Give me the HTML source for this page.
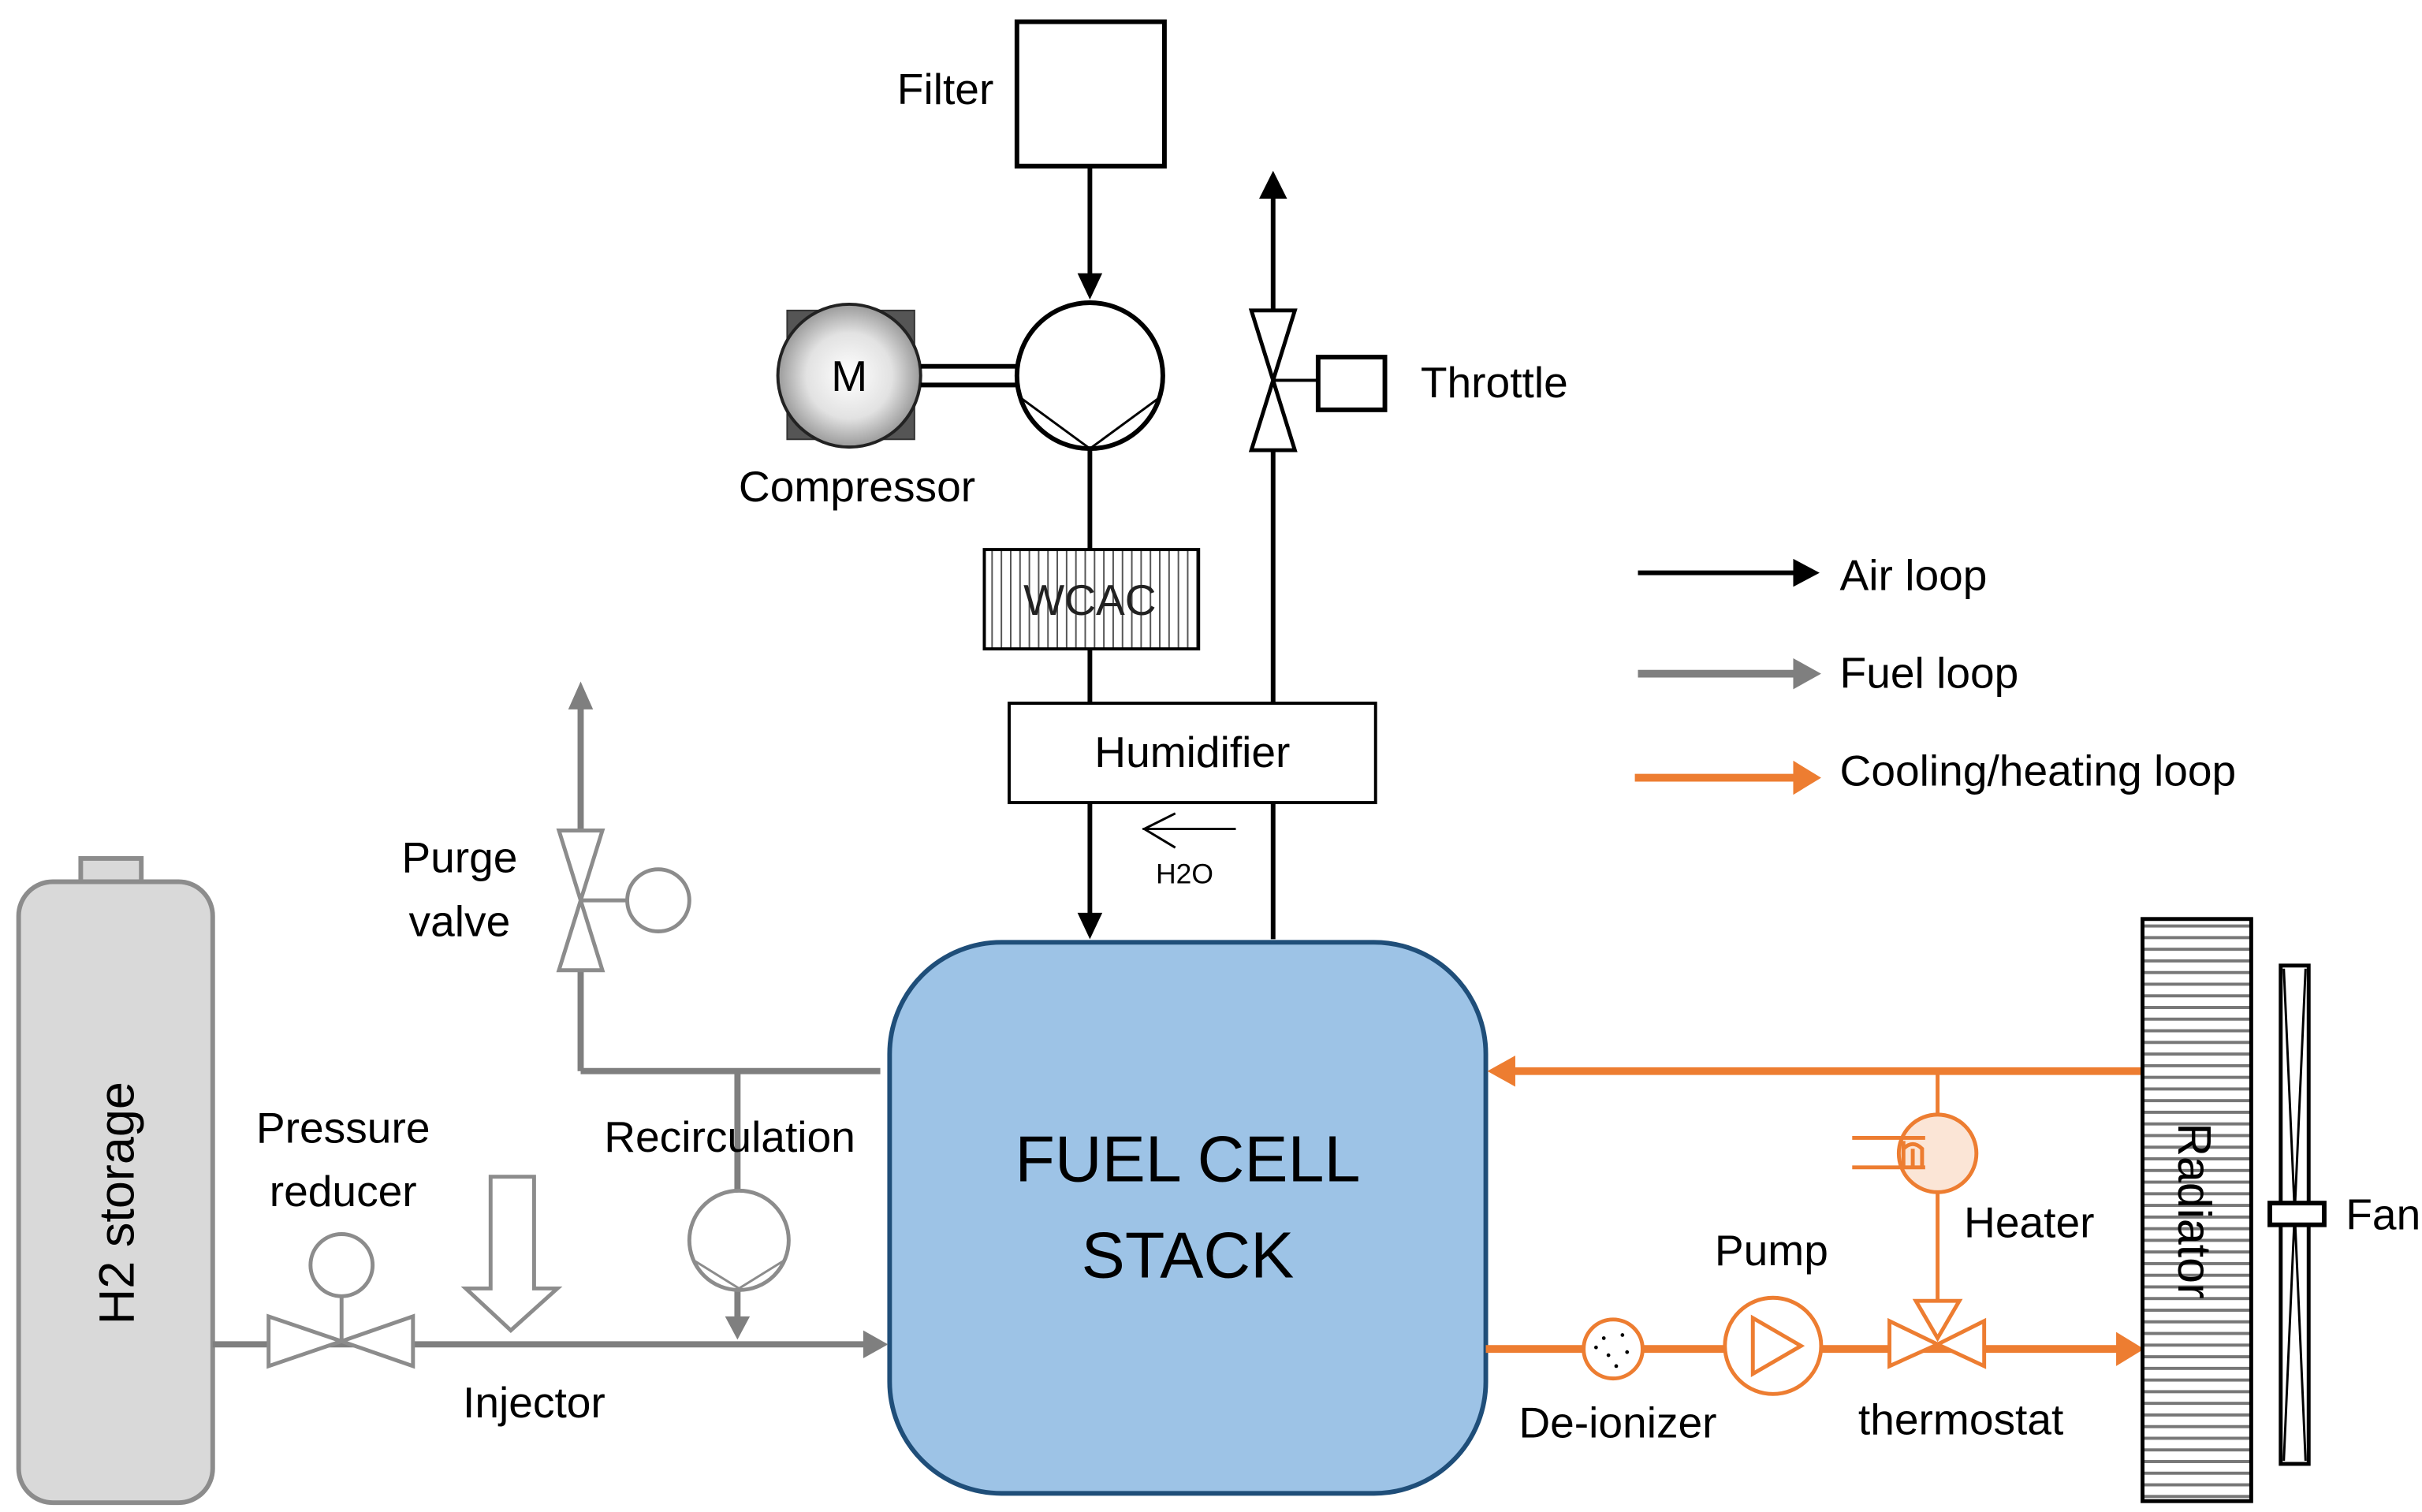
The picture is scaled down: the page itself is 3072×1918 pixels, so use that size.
<!DOCTYPE html>
<html><head><style>html,body{margin:0;padding:0;background:#fff}svg{display:block}</style></head>
<body>
<svg width="3072" height="1918" viewBox="0 0 1560 974" preserveAspectRatio="none" xmlns="http://www.w3.org/2000/svg" font-family="Liberation Sans, sans-serif">
<defs>
<radialGradient id="mg" cx="50%" cy="50%" r="50%"><stop offset="0" stop-color="#fff"/><stop offset="0.6" stop-color="#e2e2e2"/><stop offset="1" stop-color="#9a9a9a"/></radialGradient>
<pattern id="vh" width="6" height="10" patternUnits="userSpaceOnUse"><line x1="3" y1="0" x2="3" y2="10" stroke="#555" stroke-width="1"/></pattern>
<pattern id="hh" width="10" height="7.5" patternUnits="userSpaceOnUse"><line x1="0" y1="4" x2="10" y2="4" stroke="#777" stroke-width="2"/></pattern>
</defs>
<g font-size="28" fill="#000">
<rect x="655" y="14" width="95" height="93" fill="#fff" stroke="#000" stroke-width="3"/>
<text x="640" y="67" text-anchor="end">Filter</text>
<line x1="702" y1="107" x2="702" y2="178" stroke="#000" stroke-width="3"/>
<polygon points="694,176 710,176 702,193" fill="#000"/>
<rect x="507" y="200" width="82" height="83" fill="#555" stroke="#333"/>
<circle cx="547" cy="242" r="46" fill="url(#mg)" stroke="#222" stroke-width="2"/>
<text x="547" y="252" text-anchor="middle" font-size="28">M</text>
<line x1="593" y1="236" x2="655" y2="236" stroke="#000" stroke-width="3"/>
<line x1="593" y1="248" x2="655" y2="248" stroke="#000" stroke-width="3"/>
<circle cx="702" cy="242" r="47" fill="#fff" stroke="#000" stroke-width="3"/>
<polyline points="657,256 702,289 747,256" fill="none" stroke="#000" stroke-width="1.5"/>
<text x="552" y="323" text-anchor="middle">Compressor</text>
<line x1="702" y1="289" x2="702" y2="354" stroke="#000" stroke-width="3"/>
<rect x="634" y="354" width="138" height="64" fill="url(#vh)" stroke="#000" stroke-width="2"/>
<text x="702" y="396" text-anchor="middle" font-size="28" fill="#222">WCAC</text>
<line x1="702" y1="418" x2="702" y2="453" stroke="#000" stroke-width="3"/>
<line x1="820" y1="605" x2="820" y2="517" stroke="#000" stroke-width="3"/>
<line x1="820" y1="453" x2="820" y2="290" stroke="#000" stroke-width="3"/>
<rect x="650" y="453" width="236" height="64" fill="#fff" stroke="#000" stroke-width="2"/>
<text x="768" y="494" text-anchor="middle">Humidifier</text>
<line x1="702" y1="517" x2="702" y2="590" stroke="#000" stroke-width="3"/>
<polygon points="694,588 710,588 702,605" fill="#000"/>
<line x1="736" y1="534" x2="796" y2="534" stroke="#000" stroke-width="1.5"/>
<polyline points="757,524 737,534 757,546" fill="none" stroke="#000" stroke-width="1.5"/>
<text x="763" y="569" text-anchor="middle" font-size="18">H2O</text>
<polygon points="806,290 834,290 820,245" fill="#fff" stroke="#000" stroke-width="2.5"/>
<polygon points="806,200 834,200 820,245" fill="#fff" stroke="#000" stroke-width="2.5"/>
<line x1="820" y1="200" x2="820" y2="126" stroke="#000" stroke-width="3"/>
<polygon points="811,128 829,128 820,110" fill="#000"/>
<line x1="820" y1="245" x2="849" y2="245" stroke="#000" stroke-width="2"/>
<rect x="849" y="230" width="43" height="34" fill="#fff" stroke="#000" stroke-width="3"/>
<text x="915" y="256">Throttle</text>
<line x1="1055" y1="369" x2="1158" y2="369" stroke="#000" stroke-width="3"/>
<polygon points="1155,360 1172,369 1155,378" fill="#000"/>
<text x="1185" y="380">Air loop</text>
<line x1="1055" y1="434" x2="1158" y2="434" stroke="#7f7f7f" stroke-width="5"/>
<polygon points="1155,424 1173,434 1155,444" fill="#7f7f7f"/>
<text x="1185" y="443">Fuel loop</text>
<line x1="1053" y1="501" x2="1158" y2="501" stroke="#ED7D31" stroke-width="5"/>
<polygon points="1155,490 1173,501 1155,512" fill="#ED7D31"/>
<text x="1185" y="506">Cooling/heating loop</text>
<rect x="573" y="607" width="384" height="355" rx="72" fill="#9DC3E6" stroke="#1F4E79" stroke-width="3"/>
<text x="765" y="761" text-anchor="middle" font-size="42">FUEL CELL</text>
<text x="765" y="823" text-anchor="middle" font-size="42">STACK</text>
<rect x="52" y="553" width="39" height="16" fill="#d9d9d9" stroke="#8c8c8c" stroke-width="3"/>
<rect x="12" y="568" width="125" height="400" rx="22" fill="#d9d9d9" stroke="#8c8c8c" stroke-width="3"/>
<text transform="translate(86,775) rotate(-90)" text-anchor="middle" font-size="32">H2 storage</text>
<g stroke="#7f7f7f" stroke-width="4" fill="none">
<line x1="137" y1="866" x2="558" y2="866"/>
<line x1="374" y1="690" x2="567" y2="690"/>
<line x1="374" y1="690" x2="374" y2="625"/>
<line x1="374" y1="535" x2="374" y2="455"/>
<line x1="475" y1="690" x2="475" y2="768"/>
<line x1="475" y1="830" x2="475" y2="850"/>
</g>
<polygon points="556,857 572,866 556,875" fill="#7f7f7f"/>
<polygon points="467,848 483,848 475,863" fill="#7f7f7f"/>
<polygon points="366,457 382,457 374,439" fill="#7f7f7f"/>
<g stroke="#8c8c8c" stroke-width="2.5" fill="#fff">
<polygon points="173,848 173,880 220,864"/>
<polygon points="266,848 266,880 220,864"/>
<line x1="220" y1="864" x2="220" y2="834"/>
<circle cx="220" cy="815" r="20"/>
<polygon points="360,625 388,625 374,580"/>
<polygon points="360,535 388,535 374,580"/>
<line x1="374" y1="580" x2="404" y2="580"/>
<circle cx="424" cy="580" r="20"/>
<circle cx="476" cy="799" r="32"/>
<polyline points="447,812 476,830 505,812" fill="none" stroke-width="1.5"/>
<polygon points="316,758 344,758 344,830 359,830 329,857 300,830 316,830"/>
</g>
<text x="221" y="736" text-anchor="middle">Pressure</text>
<text x="221" y="777" text-anchor="middle">reducer</text>
<text x="344" y="913" text-anchor="middle">Injector</text>
<text x="470" y="742" text-anchor="middle">Recirculation</text>
<text x="296" y="562" text-anchor="middle">Purge</text>
<text x="296" y="603" text-anchor="middle">valve</text>
<g stroke="#ED7D31" fill="none">
<line x1="1380" y1="690" x2="975" y2="690" stroke-width="5"/>
<line x1="957" y1="869" x2="1365" y2="869" stroke-width="5"/>
<line x1="1248" y1="690" x2="1248" y2="718" stroke-width="2.5"/>
<line x1="1248" y1="768" x2="1248" y2="840" stroke-width="2.5"/>
</g>
<polygon points="976,680 958,690 976,700" fill="#ED7D31"/>
<polygon points="1363,858 1381,869 1363,880" fill="#ED7D31"/>
<ellipse cx="1248" cy="743" rx="25" ry="25" fill="#FBE5D6" stroke="#ED7D31" stroke-width="2.5"/>
<path d="M1193,733 H1240 M1193,752 H1240 M1226,735 v17 M1226,740 q6,-6 12,0 v12 M1232,740 v12" stroke="#ED7D31" stroke-width="2.5" fill="none"/>
<g stroke="#ED7D31" stroke-width="2.5" fill="#fff">
<polygon points="1234,838 1262,838 1248,862"/>
<polygon points="1217,851 1217,880 1248,866"/>
<polygon points="1278,851 1278,880 1248,866"/>
<circle cx="1039" cy="869" r="19"/>
<circle cx="1142" cy="867" r="31"/>
<polygon points="1129,849 1129,885 1160,867"/>
</g>
<g fill="#000"><circle cx="1033" cy="862" r="1.2"/><circle cx="1045" cy="860" r="1.2"/><circle cx="1036" cy="873" r="1.2"/><circle cx="1048" cy="871" r="1.2"/><circle cx="1041" cy="880" r="1.2"/><circle cx="1028" cy="868" r="1.2"/></g>
<text x="1307" y="797" text-anchor="middle">Heater</text>
<text x="1141" y="815" text-anchor="middle">Pump</text>
<text x="1042" y="926" text-anchor="middle">De-ionizer</text>
<text x="1263" y="924" text-anchor="middle">thermostat</text>
<rect x="1380" y="592" width="70" height="375" fill="url(#hh)" stroke="#000" stroke-width="2.5"/>
<text transform="translate(1403,780) rotate(90)" text-anchor="middle" font-size="30">Radiator</text>
<rect x="1469" y="622" width="18" height="321" fill="#fff" stroke="#000" stroke-width="2.5"/>
<path d="M1471,624 L1478,781 L1471,941 M1485,624 L1478,781 L1485,941" stroke="#000" stroke-width="1.5" fill="none"/>
<rect x="1462" y="775" width="35" height="14" fill="#fff" stroke="#000" stroke-width="3"/>
<text x="1535" y="792" text-anchor="middle">Fan</text>
</g>
</svg>
</body></html>
